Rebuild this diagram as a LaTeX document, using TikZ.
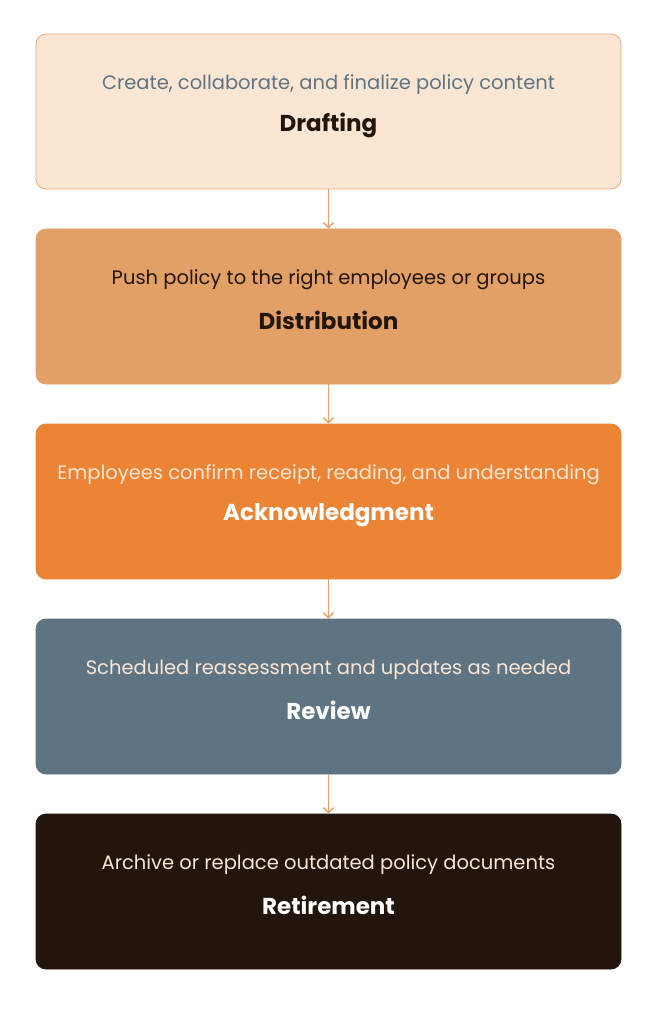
\documentclass[tikz,border=0pt]{standalone}
\usepackage{fontspec}
\setmainfont{Poppins}
\usetikzlibrary{arrows.meta}
\definecolor{c1}{HTML}{FBE6D4}\definecolor{c1b}{HTML}{E9A877}
\definecolor{c2}{HTML}{E2A066}\definecolor{c3}{HTML}{EB8434}
\definecolor{c4}{HTML}{5F7483}\definecolor{c5}{HTML}{21150C}
\definecolor{cream}{HTML}{FBE6D4}\definecolor{ar}{HTML}{E2A066}
\begin{document}
\begin{tikzpicture}[x=1pt,y=-1pt,
 box/.style={rounded corners=10pt,minimum width=585pt,minimum height=155pt,inner sep=0pt,draw=c1b,line width=0.8pt},
 ttl/.style={font=\fontsize{23}{26}\selectfont\bfseries},
 sub/.style={font=\fontsize{19.5}{22}\selectfont},
 arr/.style={draw=ar,line width=1.4pt,-{Straight Barb[length=5pt,width=10pt]}}]
\useasboundingbox (0,0) rectangle (659,1024);
\node[box,fill=c1] (b1) at (328.5,111.5) {};
\node[box,fill=c2,draw=c2] (b2) at (328.5,306.5) {};
\node[box,fill=c3,draw=c3] (b3) at (328.5,501.5) {};
\node[box,fill=c4,draw=c4] (b4) at (328.5,696.5) {};
\node[box,fill=c5,draw=c5] (b5) at (328.5,891.5) {};
\foreach \i/\t/\s/\tc/\sc in {1/Drafting/{Create, collaborate, and finalize policy content}/c5/c4,
 2/Distribution/{Push policy to the right employees or groups}/c5/c5,
 3/Acknowledgment/{Employees confirm receipt, reading, and understanding}/white/cream,
 4/Review/{Scheduled reassessment and updates as needed}/white/cream,
 5/Retirement/{Archive or replace outdated policy documents}/white/cream}{
 \node[ttl,text=\tc] (t\i) at ([yshift=-14pt]b\i.center) {\t};
 \node[sub,text=\sc] (s\i) at ([yshift=27pt]b\i.center) {\s};
}
\foreach \a/\b in {b1/b2,b2/b3,b3/b4,b4/b5} \draw[arr] (\a.south) -- (\b.north);
\end{tikzpicture}
\end{document}
